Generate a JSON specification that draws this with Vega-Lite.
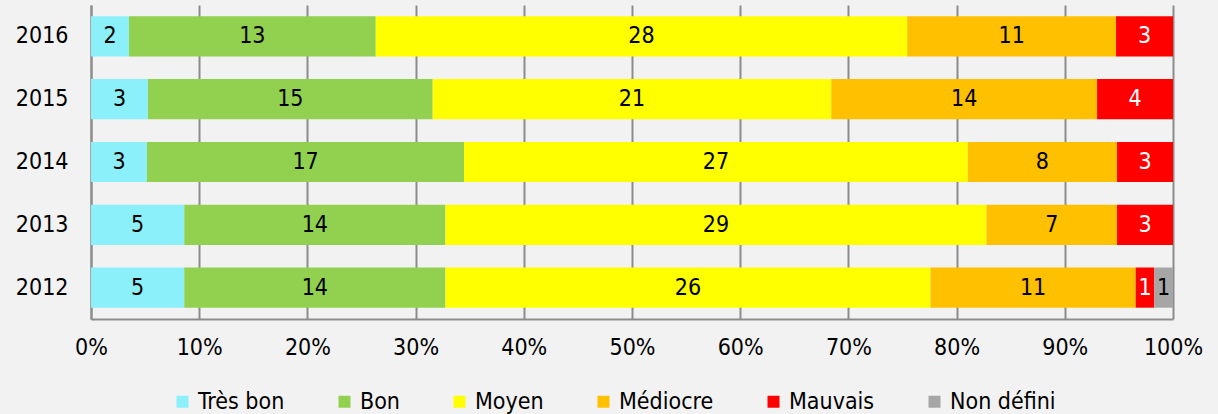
{
  "$schema": "https://vega.github.io/schema/vega-lite/v6.json",
  "width": 1082,
  "height": 314,
  "autosize": {"type": "none"},
  "padding": {"left": 91, "top": 5, "right": 45, "bottom": 95},
  "background": "#F2F2F2",
  "config": {
    "view": {"stroke": null},
    "font": "DejaVu Sans Condensed",
    "text": {"font": "DejaVu Sans Condensed"}
  },
  "data": {
    "values": [
      {"year": "2016", "cat": "Très bon", "ord": 1, "n": 2},
      {"year": "2016", "cat": "Bon", "ord": 2, "n": 13},
      {"year": "2016", "cat": "Moyen", "ord": 3, "n": 28},
      {"year": "2016", "cat": "Médiocre", "ord": 4, "n": 11},
      {"year": "2016", "cat": "Mauvais", "ord": 5, "n": 3},
      {"year": "2015", "cat": "Très bon", "ord": 1, "n": 3},
      {"year": "2015", "cat": "Bon", "ord": 2, "n": 15},
      {"year": "2015", "cat": "Moyen", "ord": 3, "n": 21},
      {"year": "2015", "cat": "Médiocre", "ord": 4, "n": 14},
      {"year": "2015", "cat": "Mauvais", "ord": 5, "n": 4},
      {"year": "2014", "cat": "Très bon", "ord": 1, "n": 3},
      {"year": "2014", "cat": "Bon", "ord": 2, "n": 17},
      {"year": "2014", "cat": "Moyen", "ord": 3, "n": 27},
      {"year": "2014", "cat": "Médiocre", "ord": 4, "n": 8},
      {"year": "2014", "cat": "Mauvais", "ord": 5, "n": 3},
      {"year": "2013", "cat": "Très bon", "ord": 1, "n": 5},
      {"year": "2013", "cat": "Bon", "ord": 2, "n": 14},
      {"year": "2013", "cat": "Moyen", "ord": 3, "n": 29},
      {"year": "2013", "cat": "Médiocre", "ord": 4, "n": 7},
      {"year": "2013", "cat": "Mauvais", "ord": 5, "n": 3},
      {"year": "2012", "cat": "Très bon", "ord": 1, "n": 5},
      {"year": "2012", "cat": "Bon", "ord": 2, "n": 14},
      {"year": "2012", "cat": "Moyen", "ord": 3, "n": 26},
      {"year": "2012", "cat": "Médiocre", "ord": 4, "n": 11},
      {"year": "2012", "cat": "Mauvais", "ord": 5, "n": 1},
      {"year": "2012", "cat": "Non défini", "ord": 6, "n": 1}
    ]
  },
  "transform": [
    {"stack": "n", "groupby": ["year"], "sort": [{"field": "ord", "order": "ascending"}], "offset": "normalize", "as": ["x0", "x1"]},
    {"calculate": "(datum.x0 + datum.x1) / 2", "as": "xm"}
  ],
  "encoding": {
    "y": {
      "field": "year", "type": "nominal", "sort": "descending", "title": null,
      "scale": {"paddingInner": 0.36, "paddingOuter": 0.18},
      "axis": {"ticks": false, "labelFontSize": 23, "labelColor": "#000000", "labelPadding": 23, "domainColor": "#8C8C8C", "domainWidth": 2, "labelFont": "DejaVu Sans Condensed"}
    }
  },
  "layer": [
    {
      "mark": {"type": "bar"},
      "encoding": {
        "x": {
          "field": "x0", "type": "quantitative", "title": null,
          "scale": {"domain": [0, 1], "nice": false, "zero": true},
          "axis": {"values": [0, 0.1, 0.2, 0.3, 0.4, 0.5, 0.6, 0.7, 0.8, 0.9, 1], "format": ".0%", "grid": true, "gridColor": "#8C8C8C", "gridWidth": 2, "gridOpacity": 1, "ticks": false, "domainColor": "#8C8C8C", "domainWidth": 2, "labelFontSize": 23, "labelColor": "#000000", "labelPadding": 17, "labelFont": "DejaVu Sans Condensed", "labelFlush": false}
        },
        "x2": {"field": "x1"},
        "color": {
          "field": "cat", "type": "nominal", "title": null,
          "sort": ["Très bon", "Bon", "Moyen", "Médiocre", "Mauvais", "Non défini"],
          "scale": {
            "domain": ["Très bon", "Bon", "Moyen", "Médiocre", "Mauvais", "Non défini"],
            "range": ["#8CF0FA", "#92D050", "#FFFF00", "#FFC000", "#FF0000", "#A6A6A6"]
          },
          "legend": {
            "orient": "none", "direction": "horizontal", "legendX": 80, "legendY": 385,
            "symbolType": "square", "symbolSize": 144, "symbolStrokeWidth": 0,
            "labelFontSize": 23, "labelColor": "#000000", "labelFont": "DejaVu Sans Condensed",
            "labelOffset": 4, "columnPadding": 48, "labelLimit": 300
          }
        }
      }
    },
    {
      "mark": {"type": "text", "fontSize": 23, "font": "DejaVu Sans Condensed", "align": "center", "baseline": "middle"},
      "encoding": {
        "x": {"field": "xm", "type": "quantitative"},
        "text": {"field": "n", "type": "quantitative"},
        "color": {"condition": {"test": "datum.cat === 'Mauvais'", "value": "#FFFFFF"}, "value": "#000000"}
      }
    }
  ]
}
